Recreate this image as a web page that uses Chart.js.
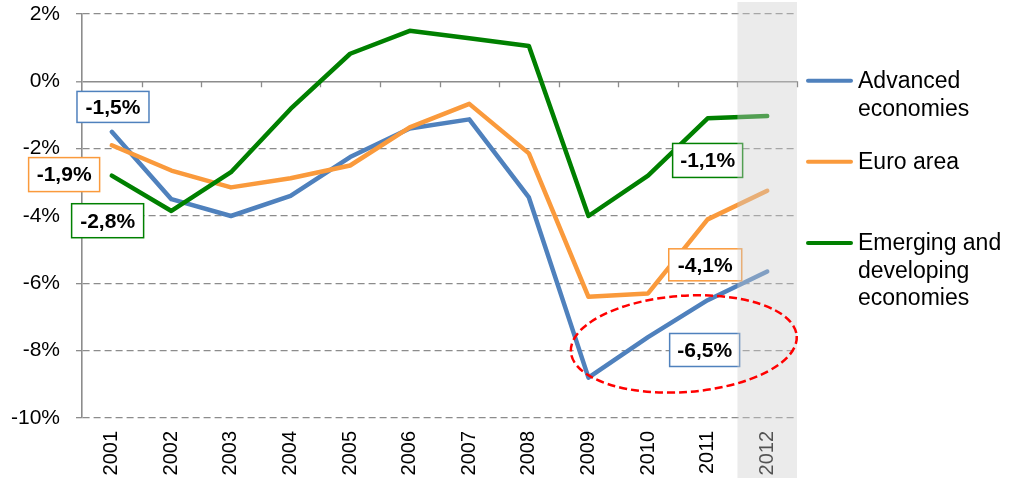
<!DOCTYPE html>
<html>
<head>
<meta charset="utf-8">
<script src="https://cdn.jsdelivr.net/npm/chart.js@4/dist/chart.umd.min.js"></script>
<style>
  html, body { margin: 0; padding: 0; background: #ffffff; }
  #wrap { width: 1009px; height: 478px; position: relative; }
</style>
</head>
<body>
<div id="wrap"><canvas id="c" width="1009" height="478"></canvas></div>
<script>
// ---- data ----
const years = ['2001','2002','2003','2004','2005','2006','2007','2008','2009','2010','2011','2012'];
const advanced = [-1.5, -3.5, -4.0, -3.4, -2.25, -1.4, -1.13, -3.45, -8.8, -7.6, -6.5, -5.65];
const euroArea = [-1.9, -2.65, -3.15, -2.88, -2.5, -1.37, -0.67, -2.14, -6.4, -6.3, -4.1, -3.25];
const emerging = [-2.8, -3.85, -2.7, -0.82, 0.82, 1.5, 1.28, 1.05, -4.0, -2.8, -1.1, -1.03];
const yTicks = [2, 0, -2, -4, -6, -8, -10];
const seriesNames = ['Advanced\neconomies', 'Euro area', 'Emerging and\ndeveloping\neconomies'];
const calloutTexts = ['-1,5%', '-1,9%', '-2,8%', '-1,1%', '-4,1%', '-6,5%'];

// ---- styles ----
const FONT = '"Liberation Sans", Arial, sans-serif';
const BLUE = '#4F81BD', ORANGE = '#FA9A3C', GREEN = '#008000';
const GRID = '#8c8c8c';

// callouts: centre given in scale units (category index, value)
const callouts = [
  { text: calloutTexts[0], color: BLUE,   cx: 0.02,  cy: -0.76, w: 72, h: 31 },
  { text: calloutTexts[1], color: ORANGE, cx: -0.8,  cy: -2.77, w: 71, h: 34 },
  { text: calloutTexts[2], color: GREEN,  cx: -0.07, cy: -4.14, w: 72, h: 34 },
  { text: calloutTexts[3], color: GREEN,  cx: 10.0,  cy: -2.35, w: 70, h: 34 },
  { text: calloutTexts[4], color: ORANGE, cx: 9.96,  cy: -5.45, w: 73, h: 32 },
  { text: calloutTexts[5], color: BLUE,   cx: 9.95,  cy: -7.98, w: 70, h: 33 }
];
const ellipseSpec = { cx: 9.6, cy: -7.8, rx: 1.9, ry: 1.43, rot: -0.07 };
const shadeIndex = 11;

const decorPlugin = {
  id: 'decor',
  beforeDatasetsDraw(chart) {
    const ctx = chart.ctx, x = chart.scales.x, y = chart.scales.y;
    const y0 = y.getPixelForValue(0);
    ctx.save();
    ctx.strokeStyle = GRID;
    ctx.lineWidth = 1.3;
    ctx.beginPath();
    for (let k = 0; k < years.length; k++) {
      const px = Math.round(x.getPixelForValue(k + 0.5)) + 0.5;
      ctx.moveTo(px, y0);
      ctx.lineTo(px, y0 + 6);
    }
    ctx.stroke();
    ctx.restore();
  },
  afterDatasetsDraw(chart) {
    const ctx = chart.ctx, x = chart.scales.x, y = chart.scales.y;
    ctx.save();
    // callout boxes
    ctx.font = 'bold 21px ' + FONT;
    ctx.textAlign = 'center';
    ctx.textBaseline = 'middle';
    callouts.forEach(c => {
      const px = x.getPixelForValue(c.cx), py = y.getPixelForValue(c.cy);
      ctx.fillStyle = '#ffffff';
      ctx.fillRect(px - c.w / 2, py - c.h / 2, c.w, c.h);
      ctx.strokeStyle = c.color;
      ctx.lineWidth = 1.5;
      ctx.strokeRect(px - c.w / 2, py - c.h / 2, c.w, c.h);
      ctx.fillStyle = '#000000';
      ctx.fillText(c.text, px, py + 1);
    });
    // projection shading
    const sx0 = x.getPixelForValue(shadeIndex - 0.5);
    const sx1 = x.getPixelForValue(shadeIndex + 0.5);
    ctx.fillStyle = 'rgba(205,205,205,0.4)';
    ctx.fillRect(sx0, 2, sx1 - sx0, chart.height - 2);
    // red dashed ellipse
    const ex = x.getPixelForValue(ellipseSpec.cx), ey = y.getPixelForValue(ellipseSpec.cy);
    const erx = Math.abs(x.getPixelForValue(ellipseSpec.cx + ellipseSpec.rx) - ex);
    const ery = Math.abs(y.getPixelForValue(ellipseSpec.cy + ellipseSpec.ry) - ey);
    ctx.strokeStyle = '#FF0000';
    ctx.lineWidth = 2.5;
    ctx.setLineDash([8, 4]);
    ctx.beginPath();
    ctx.ellipse(ex, ey, erx, ery, ellipseSpec.rot, 0, Math.PI * 2);
    ctx.stroke();
    ctx.restore();
  },
  afterDraw(chart) {
    const ctx = chart.ctx;
    const colors = [BLUE, ORANGE, GREEN];
    const rowsY = [80.7, 161.7, 243];
    ctx.save();
    ctx.font = '23px ' + FONT;
    ctx.textAlign = 'left';
    ctx.textBaseline = 'middle';
    seriesNames.forEach((name, i) => {
      ctx.strokeStyle = colors[i];
      ctx.lineWidth = 4;
      ctx.lineCap = 'round';
      ctx.beginPath();
      ctx.moveTo(808, rowsY[i]);
      ctx.lineTo(851, rowsY[i]);
      ctx.stroke();
      ctx.fillStyle = '#000000';
      name.split('\n').forEach((ln, j) => {
        ctx.fillText(ln, 858, rowsY[i] + j * 27.5 + 1);
      });
    });
    ctx.restore();
  }
};

const mkDs = (label, data, color) => ({
  label, data,
  borderColor: color,
  borderWidth: 4.5,
  pointRadius: 0,
  pointHoverRadius: 0,
  tension: 0,
  fill: false,
  borderJoinStyle: 'round',
  borderCapStyle: 'round'
});

new Chart(document.getElementById('c'), {
  type: 'line',
  data: {
    labels: years,
    datasets: [
      mkDs(seriesNames[2].replace(/\n/g, ' '), emerging, GREEN),
      mkDs(seriesNames[1], euroArea, ORANGE),
      mkDs(seriesNames[0].replace(/\n/g, ' '), advanced, BLUE)
    ]
  },
  options: {
    responsive: false,
    animation: false,
    devicePixelRatio: 1,
    layout: { padding: { left: 0, right: 212, top: 14, bottom: 0 } },
    plugins: { legend: { display: false }, tooltip: { enabled: false } },
    events: [],
    scales: {
      x: {
        type: 'category',
        offset: true,
        grid: { display: false },
        border: { display: false },
        ticks: {
          minRotation: 90, maxRotation: 90, autoSkip: false,
          padding: 5, color: '#000000',
          font: { family: FONT, size: 20 }
        },
        afterFit: s => { s.height = 60; s.paddingLeft = 0; s.paddingRight = 0; }
      },
      y: {
        min: -10, max: 2,
        afterBuildTicks: s => { s.ticks = yTicks.map(v => ({ value: v })); },
        ticks: {
          callback: v => v + '%',
          color: '#000000',
          padding: 16,
          font: { family: FONT, size: 21 }
        },
        grid: {
          color: GRID,
          lineWidth: ctx => (ctx.tick && ctx.tick.value === 0) ? 1.6 : 1.3,
          tickLength: 6,
          tickColor: GRID,
          tickWidth: 1.3
        },
        border: {
          display: true, color: GRID, width: 1.6,
          dash: ctx => (ctx.tick && ctx.tick.value === 0) ? [] : [7, 4]
        },
        afterFit: s => { s.width = 82; s.paddingTop = 0; s.paddingBottom = 0; }
      }
    }
  },
  plugins: [decorPlugin]
});
</script>
</body>
</html>
